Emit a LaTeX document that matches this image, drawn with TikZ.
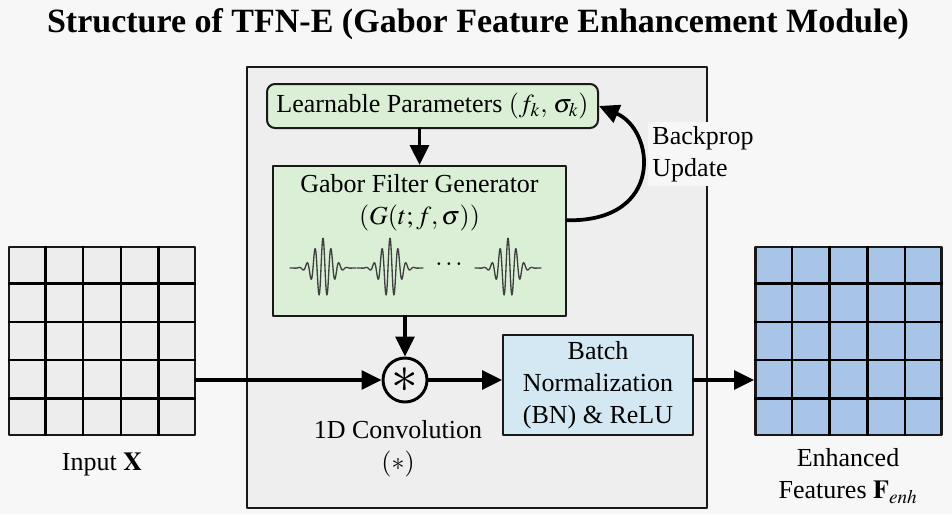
\documentclass[tikz,border=0pt]{standalone}
\usepackage{mathptmx}
\usepackage[no-math]{fontspec}
\setmainfont{Liberation Serif}
\usetikzlibrary{arrows.meta,calc}
\definecolor{bgc}{HTML}{F7F7F7}
\definecolor{panelc}{HTML}{EEEEEE}
\definecolor{grnc}{HTML}{DAEFD6}
\definecolor{bluec}{HTML}{D3E8F3}
\definecolor{cellc}{HTML}{EDEDED}
\definecolor{outc}{HTML}{A8C4E7}
\def\px{0.75pt}
\begin{document}
\begin{tikzpicture}[x=\px,y=-\px, font=\fontsize{19.5}{24}\selectfont, line join=round, line cap=round, >={Triangle[length=15pt,width=14pt]},
  box/.style={draw=black!90, line width=1.5pt, align=center, inner sep=0pt},
  flow/.style={->, line width=2.8pt},
  txt/.style={align=center, inner sep=1pt}]
\fill[bgc] (0,0) rectangle (952,514);
\def \gw(#1){30*exp(-((#1)/12)^2)*cos(45*(#1))}
\node[box, fill=panelc, minimum width=460*\px, minimum height=441*\px] (mod) at (477,287.5) {};
\node[font=\fontsize{25.5}{30}\selectfont\bfseries] (ttl) at (478,24) {Structure of TFN-E (Gabor Feature Enhancement Module)};
% filter branch
\node[box, fill=grnc, rounded corners=6pt, minimum width=331*\px, minimum height=44*\px] (lp) at (432.5,106) {Learnable Parameters $(f_{k},\,\sigma_{k})$};
\node[box, fill=grnc, minimum width=293*\px, minimum height=150*\px] (gab) at (419.5,241) {};
\node[txt] (gabt) at (419.5,203) {Gabor Filter Generator\\$(G(t;f,\sigma))$};
\foreach \c in {323,390,508}
  \draw[line width=1pt, black!75, samples=180, smooth, domain=-33:33] plot ({\c+\x},{268-\gw(\x)});
\node (dots) at (449,264) {$\dots$};
% main path
\node[draw, circle, line width=2.2pt, minimum size=44*\px, inner sep=0pt] (conv) at (405,380) {\fontsize{40}{40}\selectfont\boldmath$\ast$};
\node[txt] (convl) at (398,449) {1D Convolution\\$(\ast)$};
\node[box, fill=bluec, minimum width=190*\px, minimum height=100*\px] (bn) at (598,385) {Batch\\Normalization\\(BN) \& ReLU};
\node[box, fill=cellc, line width=2pt, minimum width=186*\px, minimum height=188*\px] (inp) at (102,341) {};
\node[box, fill=outc, line width=2pt, minimum width=186*\px, minimum height=188*\px] (out) at (848.5,341) {};
\foreach \g in {inp,out} \foreach \i in {1,...,4} {
  \draw[line width=2pt, line cap=butt] ($(\g.north west)!\i/5!(\g.north east)$) -- ($(\g.south west)!\i/5!(\g.south east)$);
  \draw[line width=2pt, line cap=butt] ($(\g.north west)!\i/5!(\g.south west)$) -- ($(\g.north east)!\i/5!(\g.south east)$);
}
\node[txt] (inpl) at (102,465) {Input $\mathbf{X}$};
\node[txt] (outl) at (848,476) {Enhanced\\Features $\mathbf{F}_{enh}$};
% connectors
\draw[flow] (lp.south -| gab.north) -- (gab.north);
\draw[flow] (conv |- gab.south) -- (conv.north);
\draw[flow] (inp.east |- conv) -- (conv.west);
\draw[flow] (conv.east) -- (bn.west |- conv);
\draw[flow] (bn.east |- conv) -- (out.west |- conv);
\draw[flow] (gab.8) .. controls (665,222) and (655,130) .. (lp.east);
\node[txt, fill=bgc, inner sep=3pt, align=left] (bpl) at (703,154) {Backprop\\Update};
\end{tikzpicture}
\end{document}
